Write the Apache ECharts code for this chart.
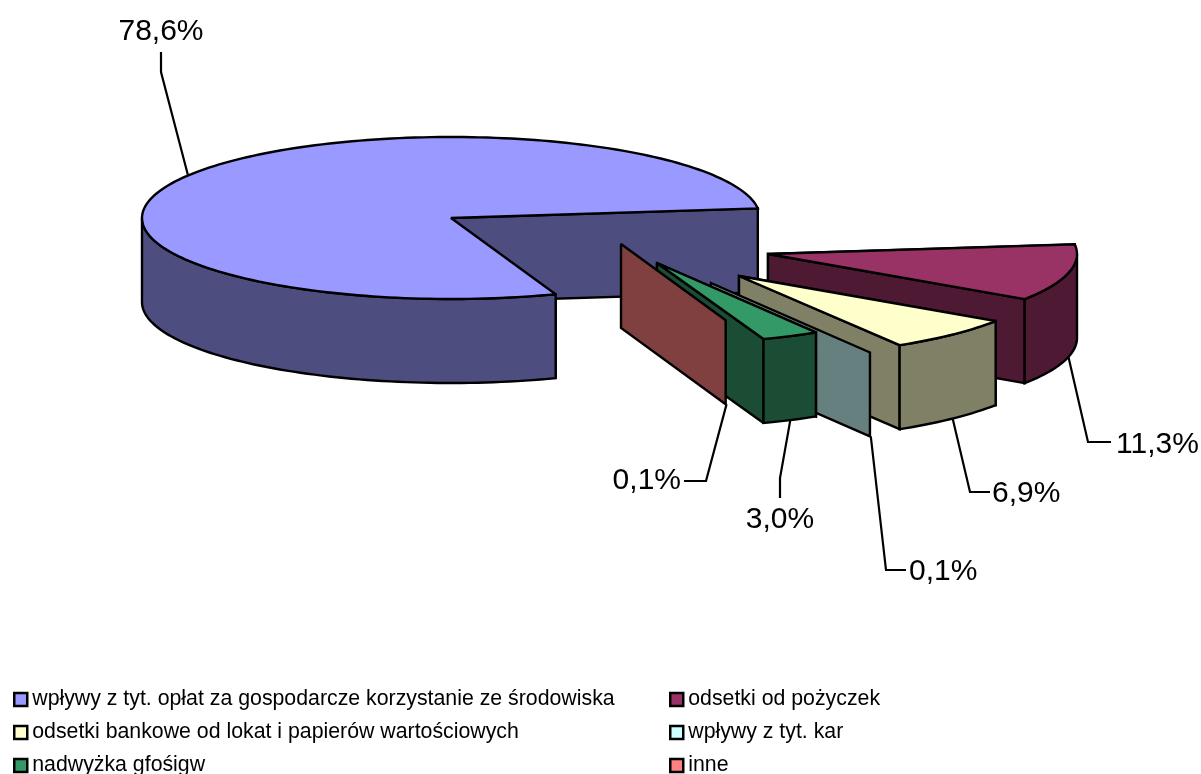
<!DOCTYPE html>
<html>
<head>
<meta charset="utf-8">
<style>html,body{margin:0;padding:0;background:#fff;overflow:hidden}#c{width:1201px;height:774px}</style>
<script src="https://cdn.jsdelivr.net/npm/echarts@6/dist/echarts.min.js"></script>
</head>
<body>
<div id="c"></div>
<script>
var categories = [
  'wpływy z tyt. opłat za gospodarcze korzystanie ze środowiska',
  'odsetki od pożyczek',
  'odsetki bankowe od lokat i papierów wartościowych',
  'wpływy z tyt. kar',
  'nadwyżka gfośigw',
  'inne'
];
var shares = [78.6, 11.3, 6.9, 0.1, 3.0, 0.1];
var topColors = ['#9999FF', '#993366', '#FFFFCC', '#CCFFFF', '#339966', '#FF8080'];
var sideColors = ['#4D4D80', '#4D1933', '#808066', '#668080', '#1A4D33', '#804040'];
var explodeDx = [0, 317, 288, 260, 206, 170];
var explodeDy = [0, 36, 58, 65, 45, 26];
// leader line: elbow and end points, then label anchor
var leaderElbow = [[161, 72], [1088, 442], [970, 492], [886, 570], [780, 478], [706, 481]];
var leaderEnd = [[161, 52], [1111, 442], [990, 492], [906, 570], [780, 498], [684, 481]];
var labelAt = [[161, 32], [1116, 445], [992, 494], [909, 572], [780, 520], [681, 481]];
var labelAlign = ['center', 'left', 'left', 'left', 'center', 'right'];

var CX = 451, CY = 218, RX = 309, RY = 81, DEPTH = 84, FIRST_ANGLE = 70.2;
var FONT = '"Liberation Sans", Arial, sans-serif';
var line = { stroke: '#000', lineWidth: 2.4, lineJoin: 'miter', miterLimit: 2 };

var total = shares.reduce(function (a, b) { return a + b; }, 0);
function rad(d) { return d * Math.PI / 180; }

function arc(cx, cy, a0, a1) {
  var pts = [], n = Math.max(2, Math.ceil(Math.abs(a1 - a0) / 1.5));
  for (var i = 0; i <= n; i++) {
    var a = rad(a0 + (a1 - a0) * i / n);
    pts.push([cx + RX * Math.cos(a), cy + RY * Math.sin(a)]);
  }
  return pts;
}
function down(pts) {
  return pts.map(function (p) { return [p[0], p[1] + DEPTH]; }).reverse();
}
function poly(points, fill) {
  var s = { fill: fill };
  for (var k in line) s[k] = line[k];
  return { type: 'polygon', shape: { points: points }, style: s };
}

function renderSlice(idx, value) {
  var before = 0;
  for (var i = 0; i < idx; i++) before += shares[i];
  var a0 = FIRST_ANGLE + before / total * 360;
  var a1 = a0 + value / total * 360;
  var cx = CX + explodeDx[idx], cy = CY + explodeDy[idx];
  var side = sideColors[idx], top = topColors[idx];
  var apex = [cx, cy];
  var children = [];
  var pStart = arc(cx, cy, a0, a0)[0], pEnd = arc(cx, cy, a1, a1)[0];
  var hairline = a1 - a0 < 1; // a sliver too thin to show its top or rim

  // radial walls, back one first
  if (!hairline) children.push(poly([apex, pStart].concat(down([apex, pStart])), side));
  children.push(poly([apex, pEnd].concat(down([apex, pEnd])), side));

  if (!hairline) {
    // rim wall: only the part of the arc facing the viewer
    for (var k = 0; k <= 1; k++) {
      var lo = Math.max(a0, k * 360), hi = Math.min(a1, k * 360 + 180);
      if (hi > lo) {
        var rim = arc(cx, cy, lo, hi);
        children.push(poly(rim.concat(down(rim)), side));
      }
    }
    // top face
    children.push(poly([apex].concat(arc(cx, cy, a0, a1)), top));
  }

  // leader line starts on the rim at the slice's mid angle
  var mid = (a0 + a1) / 2, start = arc(cx, cy, mid, mid)[0];
  if (Math.sin(rad(mid)) > 0) start[1] += DEPTH;
  children.push({
    type: 'polyline',
    shape: { points: [start, leaderElbow[idx], leaderEnd[idx]] },
    style: { fill: null, stroke: '#000', lineWidth: 2.2 },
    z2: 50
  });
  children.push({
    type: 'text',
    z2: 60,
    style: {
      x: labelAt[idx][0], y: labelAt[idx][1],
      text: value.toFixed(1).replace('.', ',') + '%',
      font: '30px ' + FONT, fill: '#000',
      textAlign: labelAlign[idx], textVerticalAlign: 'middle'
    }
  });
  return { type: 'group', children: children };
}

var series = categories.map(function (name, idx) {
  return {
    type: 'custom',
    name: name,
    coordinateSystem: 'none',
    silent: true,
    itemStyle: { color: topColors[idx] },
    data: [[shares[idx]]],
    renderItem: function (params, api) { return renderSlice(idx, api.value(0)); }
  };
});

function legendOf(names, left) {
  return {
    orient: 'vertical', left: left, top: 688, height: 200, padding: 0,
    itemWidth: 13, itemHeight: 13, itemGap: 10, selectedMode: false,
    icon: 'rect',
    itemStyle: { borderColor: '#000', borderWidth: 2.5 },
    textStyle: { fontFamily: FONT, fontSize: 21.3, color: '#000', lineHeight: 23 },
    data: names
  };
}

var chart = echarts.init(document.getElementById('c'), null, { renderer: 'canvas' });
chart.setOption({
  backgroundColor: '#fff',
  animation: false,
  legend: [
    legendOf([categories[0], categories[2], categories[4]], 13),
    legendOf([categories[1], categories[3], categories[5]], 669)
  ],
  series: series
});
</script>
</body>
</html>
